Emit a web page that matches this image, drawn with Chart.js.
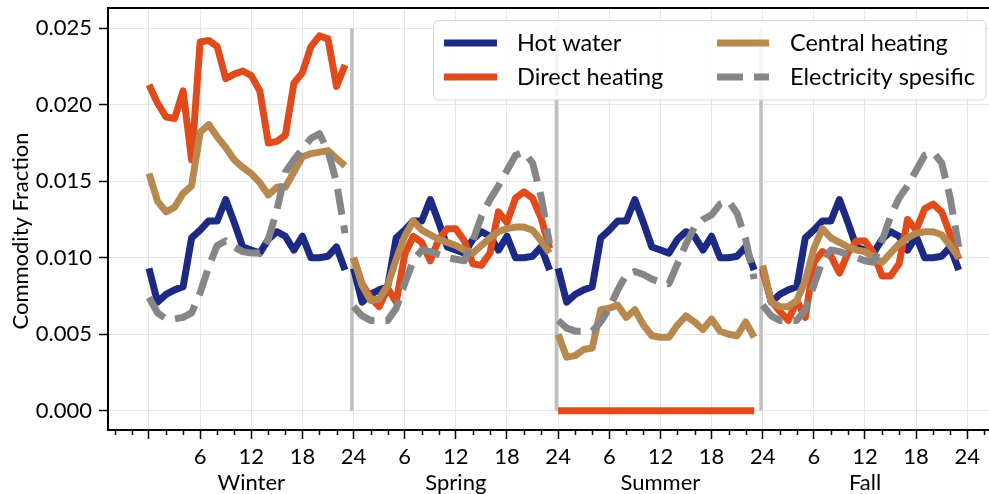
<!DOCTYPE html>
<html>
<head>
<meta charset="utf-8">
<title>Commodity Fraction by season</title>
<script src="https://cdn.jsdelivr.net/npm/chart.js@4.4.1/dist/chart.umd.min.js"></script>
<style>
  html, body { margin: 0; padding: 0; background: #ffffff; overflow: hidden; }
  #wrap { width: 989px; height: 494px; position: relative; }
</style>
</head>
<body>
<div id="wrap"><canvas id="chart" width="989" height="494"></canvas></div>
<script>
// ---- data: hourly commodity fractions, 24 hours per season ----
const seasons = ['Winter', 'Spring', 'Summer', 'Fall'];
const hoursPerSeason = 24;
const hourTickLabels = ['6', '12', '18', '24'];
const yTickValues = [0, 0.005, 0.010, 0.015, 0.020, 0.025];

const hotWater = [
  // Winter
  0.0093, 0.0071, 0.0076, 0.0079, 0.0081, 0.0113, 0.0118, 0.0124, 0.0124, 0.0138, 0.0123, 0.0107,
  0.0105, 0.0103, 0.0112, 0.0117, 0.0114, 0.0105, 0.0114, 0.0100, 0.0100, 0.0101, 0.0107, 0.0092,
  // Spring
  0.0093, 0.0071, 0.0076, 0.0079, 0.0081, 0.0113, 0.0118, 0.0124, 0.0124, 0.0138, 0.0123, 0.0107,
  0.0105, 0.0103, 0.0112, 0.0117, 0.0114, 0.0105, 0.0114, 0.0100, 0.0100, 0.0101, 0.0107, 0.0092,
  // Summer
  0.0093, 0.0071, 0.0076, 0.0079, 0.0081, 0.0113, 0.0118, 0.0124, 0.0124, 0.0138, 0.0123, 0.0107,
  0.0105, 0.0103, 0.0112, 0.0117, 0.0114, 0.0105, 0.0114, 0.0100, 0.0100, 0.0101, 0.0107, 0.0092,
  // Fall
  0.0093, 0.0071, 0.0076, 0.0079, 0.0081, 0.0113, 0.0118, 0.0124, 0.0124, 0.0138, 0.0123, 0.0107,
  0.0105, 0.0103, 0.0112, 0.0117, 0.0114, 0.0105, 0.0114, 0.0100, 0.0100, 0.0101, 0.0107, 0.0092
];

const directHeating = [
  // Winter
  0.0213, 0.0201, 0.0192, 0.0191, 0.0209, 0.0164, 0.0241, 0.0242, 0.0238, 0.0217, 0.0220, 0.0222,
  0.0219, 0.0209, 0.0175, 0.0176, 0.0180, 0.0214, 0.0221, 0.0238, 0.0245, 0.0243, 0.0212, 0.0226,
  // Spring
  0.0100, 0.0083, 0.0074, 0.0068, 0.0080, 0.0071, 0.0102, 0.0114, 0.0110, 0.0098, 0.0112, 0.0119,
  0.0119, 0.0111, 0.0096, 0.0095, 0.0103, 0.0130, 0.0123, 0.0139, 0.0143, 0.0139, 0.0126, 0.0106,
  // Summer
  0, 0, 0, 0, 0, 0, 0, 0, 0, 0, 0, 0,
  0, 0, 0, 0, 0, 0, 0, 0, 0, 0, 0, 0,
  // Fall
  0.0091, 0.0072, 0.0065, 0.0059, 0.0072, 0.0061, 0.0097, 0.0104, 0.0101, 0.0090, 0.0103, 0.0111,
  0.0111, 0.0103, 0.0088, 0.0088, 0.0096, 0.0125, 0.0118, 0.0132, 0.0135, 0.0130, 0.0115, 0.0099
];

const centralHeating = [
  // Winter
  0.0155, 0.0137, 0.0130, 0.0133, 0.0142, 0.0147, 0.0182, 0.0187, 0.0179, 0.0172, 0.0164, 0.0159,
  0.0155, 0.0149, 0.0141, 0.0146, 0.0146, 0.0156, 0.0166, 0.0168, 0.0169, 0.0170, 0.0165, 0.0160,
  // Spring
  0.0100, 0.0082, 0.0072, 0.0073, 0.0082, 0.0099, 0.0114, 0.0124, 0.0118, 0.0115, 0.0112, 0.0110,
  0.0108, 0.0105, 0.0103, 0.0108, 0.0113, 0.0117, 0.0119, 0.0120, 0.0120, 0.0118, 0.0111, 0.0103,
  // Summer
  0.0050, 0.0035, 0.0036, 0.0040, 0.0041, 0.0066, 0.0067, 0.0069, 0.0061, 0.0066, 0.0056, 0.0049,
  0.0048, 0.0048, 0.0056, 0.0062, 0.0058, 0.0053, 0.0060, 0.0052, 0.0050, 0.0049, 0.0058, 0.0048,
  // Fall
  0.0095, 0.0071, 0.0068, 0.0068, 0.0072, 0.0085, 0.0106, 0.0119, 0.0113, 0.0110, 0.0107, 0.0105,
  0.0104, 0.0100, 0.0097, 0.0103, 0.0109, 0.0113, 0.0116, 0.0117, 0.0117, 0.0115, 0.0108, 0.0100
];

const electricitySpecific = [
  // Winter
  0.0074, 0.0064, 0.0060, 0.0060, 0.0061, 0.0064, 0.0077, 0.0094, 0.0108, 0.0111, 0.0107, 0.0104,
  0.0103, 0.0103, 0.0112, 0.0131, 0.0156, 0.0164, 0.0171, 0.0178, 0.0181, 0.0170, 0.0149, 0.0116,
  // Spring
  0.0068, 0.0062, 0.0059, 0.0059, 0.0059, 0.0067, 0.0083, 0.0098, 0.0105, 0.0104, 0.0102, 0.0100,
  0.0099, 0.0098, 0.0111, 0.0127, 0.0138, 0.0147, 0.0157, 0.0167, 0.0169, 0.0162, 0.0140, 0.0109,
  // Summer
  0.0059, 0.0054, 0.0052, 0.0052, 0.0052, 0.0058, 0.0067, 0.0079, 0.0089, 0.0091, 0.0089, 0.0086,
  0.0084, 0.0083, 0.0096, 0.0109, 0.0120, 0.0125, 0.0128, 0.0135, 0.0137, 0.0129, 0.0112, 0.0086,
  // Fall
  0.0069, 0.0062, 0.0059, 0.0059, 0.0059, 0.0066, 0.0082, 0.0098, 0.0105, 0.0104, 0.0102, 0.0100,
  0.0098, 0.0097, 0.0111, 0.0127, 0.0139, 0.0147, 0.0157, 0.0167, 0.0169, 0.0162, 0.0139, 0.0107
];

// ---- styling ----
const FONT = 'Lato, "Noto Sans", sans-serif';
const FONT_SIZE = 22;
const LEGEND_FONT_SIZE = 23.5;
const colors = {
  hot: '#1c2a83',
  direct: '#e14b1c',
  central: '#b7894f',
  elec: '#868686',
  divider: '#c0c0c0',
  grid: '#e6e6e6'
};

// Split a series into one line per season (no joining segment between seasons)
function seasonLines(values) {
  const pts = [];
  values.forEach((v, i) => {
    if (i > 0 && i % hoursPerSeason === 0) pts.push({ x: i - 0.5, y: null });
    pts.push({ x: i, y: v });
  });
  return pts;
}

const seriesDefs = [
  { label: 'Hot water', values: hotWater, color: colors.hot, dash: [], order: 4 },
  { label: 'Direct heating', values: directHeating, color: colors.direct, dash: [], order: 3 },
  { label: 'Central heating', values: centralHeating, color: colors.central, dash: [], order: 2 },
  { label: 'Electricity spesific', values: electricitySpecific, color: colors.elec, dash: [26, 11], order: 1 }
];

const datasets = seriesDefs.map(s => ({
  label: s.label,
  data: seasonLines(s.values),
  borderColor: s.color,
  backgroundColor: s.color,
  borderWidth: 7,
  borderDash: s.dash,
  borderCapStyle: 'butt',
  borderJoinStyle: 'round',
  pointRadius: 0,
  pointHoverRadius: 0,
  tension: 0,
  fill: false,
  spanGaps: false,
  order: s.order
}));

const xMajor = [];
for (let v = 0; v <= hoursPerSeason * seasons.length; v += 6) xMajor.push(v);

// Season dividers, minor ticks, season names, y title and legend
const decorations = {
  id: 'decorations',
  beforeDatasetsDraw(chart) {
    const { ctx, scales: { x, y } } = chart;
    ctx.save();
    ctx.strokeStyle = colors.divider;
    ctx.lineWidth = 3.5;
    for (let s = 1; s < seasons.length; s++) {
      const px = x.getPixelForValue(s * hoursPerSeason - 0.2);
      ctx.beginPath();
      ctx.moveTo(px, y.getPixelForValue(0));
      ctx.lineTo(px, y.getPixelForValue(0.025));
      ctx.stroke();
    }
    ctx.restore();
  },
  afterDraw(chart) {
    const { ctx, chartArea, scales: { x, y } } = chart;
    ctx.save();

    // top spine
    ctx.strokeStyle = '#000';
    ctx.lineWidth = 2;
    ctx.beginPath();
    ctx.moveTo(chartArea.left - 1, chartArea.top);
    ctx.lineTo(chartArea.right, chartArea.top);
    ctx.stroke();

    // minor x ticks every 2 hours
    ctx.lineWidth = 1.5;
    for (let v = -4; v <= 98; v += 2) {
      if (v % 6 === 0) continue;
      const px = Math.round(x.getPixelForValue(v)) + 0.5;
      if (px < chartArea.left || px > chartArea.right) continue;
      ctx.beginPath();
      ctx.moveTo(px, chartArea.bottom);
      ctx.lineTo(px, chartArea.bottom + 5);
      ctx.stroke();
    }

    // season names under the hour labels
    ctx.fillStyle = '#000';
    ctx.font = `${FONT_SIZE}px ${FONT}`;
    ctx.textAlign = 'center';
    ctx.textBaseline = 'alphabetic';
    seasons.forEach((name, s) => {
      ctx.fillText(name, x.getPixelForValue(s * hoursPerSeason + 12), 490);
    });

    // y axis title
    ctx.save();
    ctx.translate(21, 231);
    ctx.rotate(-Math.PI / 2);
    ctx.textBaseline = 'middle';
    ctx.fillText('Commodity Fraction', 0, 0);
    ctx.restore();

    // legend (two columns)
    const box = { x: 433.5, y: 20.5, w: 552.5, h: 79.5 };
    ctx.beginPath();
    ctx.roundRect(box.x, box.y, box.w, box.h, 5);
    ctx.fillStyle = 'rgba(255,255,255,0.85)';
    ctx.fill();
    ctx.strokeStyle = '#d6d6d6';
    ctx.lineWidth = 1;
    ctx.stroke();

    ctx.font = `${LEGEND_FONT_SIZE}px ${FONT}`;
    const cols = [{ x0: 444, x1: 497, tx: 517 }, { x0: 717, x1: 769, tx: 790 }];
    const rows = [43, 77];
    const place = [[0, 0], [0, 1], [1, 0], [1, 1]];
    seriesDefs.forEach((s, k) => {
      const c = cols[place[k][0]];
      const ry = rows[place[k][1]];
      ctx.strokeStyle = s.color;
      ctx.lineWidth = 7;
      ctx.lineCap = 'butt';
      ctx.setLineDash(s.dash);
      ctx.beginPath();
      ctx.moveTo(c.x0, ry);
      ctx.lineTo(c.x1, ry);
      ctx.stroke();
      ctx.setLineDash([]);
      ctx.fillStyle = '#000';
      ctx.textAlign = 'left';
      ctx.textBaseline = 'middle';
      ctx.fillText(s.label, c.tx, ry);
    });

    ctx.restore();
  }
};

new Chart(document.getElementById('chart'), {
  type: 'line',
  data: { datasets },
  options: {
    responsive: false,
    animation: false,
    devicePixelRatio: 1,
    layout: { padding: { top: 8, left: 0, right: 0, bottom: 0 } },
    plugins: { legend: { display: false }, tooltip: { enabled: false } },
    events: [],
    scales: {
      x: {
        type: 'linear',
        min: -4.81,
        max: 98.55,
        afterBuildTicks: axis => { axis.ticks = xMajor.map(value => ({ value })); },
        afterFit: axis => {
          axis.height = 64;
          axis.paddingLeft = 0;
          axis.paddingRight = 0;
        },
        grid: { color: colors.grid, lineWidth: 1, tickLength: 9, tickColor: '#000', tickWidth: 1.5 },
        border: { display: true, color: '#000', width: 2 },
        ticks: {
          autoSkip: false,
          maxRotation: 0,
          padding: 5,
          color: '#000',
          font: { family: FONT, size: FONT_SIZE },
          callback: v => (v === 0 ? '' : hourTickLabels[(v / 6 - 1) % hourTickLabels.length])
        }
      },
      y: {
        type: 'linear',
        min: -0.00126,
        max: 0.02632,
        afterBuildTicks: axis => { axis.ticks = yTickValues.map(value => ({ value })); },
        afterFit: axis => {
          axis.width = 108;
          axis.paddingTop = 0;
          axis.paddingBottom = 0;
        },
        grid: { color: colors.grid, lineWidth: 1, tickLength: 9, tickColor: '#000', tickWidth: 1.5 },
        border: { display: true, color: '#000', width: 2 },
        ticks: {
          padding: 7,
          color: '#000',
          font: { family: FONT, size: FONT_SIZE },
          callback: v => v.toFixed(3)
        }
      }
    }
  },
  plugins: [decorations]
});
</script>
</body>
</html>
